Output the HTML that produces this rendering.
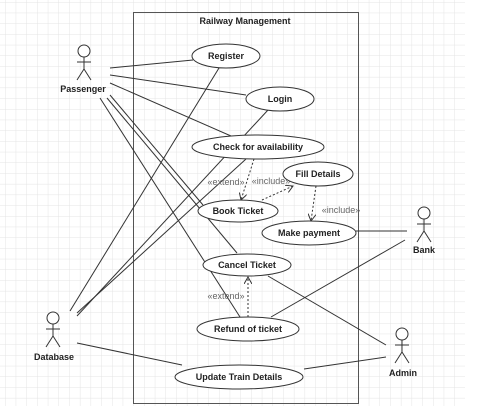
<!DOCTYPE html>
<html><head><meta charset="utf-8"><style>
html,body{margin:0;padding:0;background:#fff;}
svg{display:block;}
text{font-family:"Liberation Sans",sans-serif;font-size:9px;font-weight:bold;fill:#222;text-anchor:middle;}
.l{fill:#666;font-weight:normal;}
</style></head><body>
<svg width="481" height="412" xmlns="http://www.w3.org/2000/svg">
<defs>
<pattern id="g" width="10.7" height="10.7" patternUnits="userSpaceOnUse" x="5" y="2">
<path d="M0 0H10.7M0 0V10.7" stroke="#e4e4e4" stroke-width="1" fill="none"/>
</pattern>
<marker id="a" markerWidth="8" markerHeight="8" refX="7" refY="4" orient="auto" markerUnits="userSpaceOnUse">
<path d="M0 0L7 4L0 8" fill="none" stroke="#333" stroke-width="1"/>
</marker>
</defs>
<rect x="0" y="0" width="465" height="406" fill="url(#g)"/>
<rect x="133.5" y="12.5" width="225" height="391" fill="none" stroke="#555" stroke-width="1"/>
<text x="245" y="24">Railway Management</text>
<g stroke="#333" stroke-width="1" fill="none">
<!-- passenger -->
<line x1="110" y1="68" x2="193" y2="60"/>
<line x1="110" y1="75" x2="246" y2="95"/>
<line x1="110" y1="83" x2="231" y2="136"/>
<line x1="110" y1="95" x2="203" y2="205"/>
<line x1="107" y1="98" x2="237" y2="253"/>
<line x1="100" y1="98" x2="240" y2="317"/>
<!-- database -->
<line x1="70" y1="311" x2="219" y2="68"/>
<line x1="77" y1="316" x2="268" y2="110"/>
<line x1="77" y1="313" x2="246" y2="159"/>
<line x1="77" y1="343" x2="182" y2="365"/>
<!-- bank -->
<line x1="407" y1="231" x2="356" y2="231"/>
<line x1="405" y1="240" x2="271" y2="317"/>
<!-- admin -->
<line x1="386" y1="345" x2="268" y2="276"/>
<line x1="386" y1="357" x2="304" y2="369"/>
</g>
<g stroke="#333" stroke-width="1" stroke-dasharray="2,2" fill="none" marker-end="url(#a)">
<line x1="254" y1="159" x2="241" y2="200"/>
<line x1="262" y1="200" x2="293" y2="186"/>
<line x1="316" y1="186" x2="311" y2="221"/>
<line x1="248" y1="317" x2="248" y2="277"/>
</g>
<text class="l" x="226" y="185">«extend»</text>
<text class="l" x="271" y="184">«include»</text>
<text class="l" x="341" y="213">«include»</text>
<text class="l" x="226" y="299">«extend»</text>
<g fill="#fff" stroke="#333" stroke-width="1">
<ellipse cx="226" cy="56" rx="34" ry="12"/>
<ellipse cx="280" cy="99" rx="34" ry="12"/>
<ellipse cx="258" cy="147" rx="66" ry="12"/>
<ellipse cx="318" cy="174" rx="35" ry="12"/>
<ellipse cx="238" cy="211" rx="40" ry="11"/>
<ellipse cx="309" cy="233" rx="47" ry="12"/>
<ellipse cx="247" cy="265" rx="44" ry="11"/>
<ellipse cx="248" cy="329" rx="51" ry="12"/>
<ellipse cx="239" cy="377" rx="64" ry="12"/>
</g>
<text x="226" y="59">Register</text>
<text x="280" y="102">Login</text>
<text x="258" y="150">Check for availability</text>
<text x="318" y="177">Fill Details</text>
<text x="238" y="214">Book Ticket</text>
<text x="309" y="236">Make payment</text>
<text x="247" y="268">Cancel Ticket</text>
<text x="248" y="332">Refund of ticket</text>
<text x="239" y="380">Update Train Details</text>
<!-- actors -->
<g stroke="#333" stroke-width="1" fill="#fff">
<circle cx="84" cy="51" r="6"/><path d="M84 57V69M77 62H91M84 69L77 80M84 69L91 80" fill="none"/>
<circle cx="424" cy="213" r="6"/><path d="M424 219V231M417 224H431M424 231L417 242M424 231L431 242" fill="none"/>
<circle cx="53" cy="318" r="6"/><path d="M53 324V336M46 329H60M53 336L46 347M53 336L60 347" fill="none"/>
<circle cx="402" cy="334" r="6"/><path d="M402 340V352M395 345H409M402 352L395 363M402 352L409 363" fill="none"/>
</g>
<text x="83" y="92">Passenger</text>
<text x="424" y="253">Bank</text>
<text x="54" y="360">Database</text>
<text x="403" y="376">Admin</text>
</svg>
</body></html>
